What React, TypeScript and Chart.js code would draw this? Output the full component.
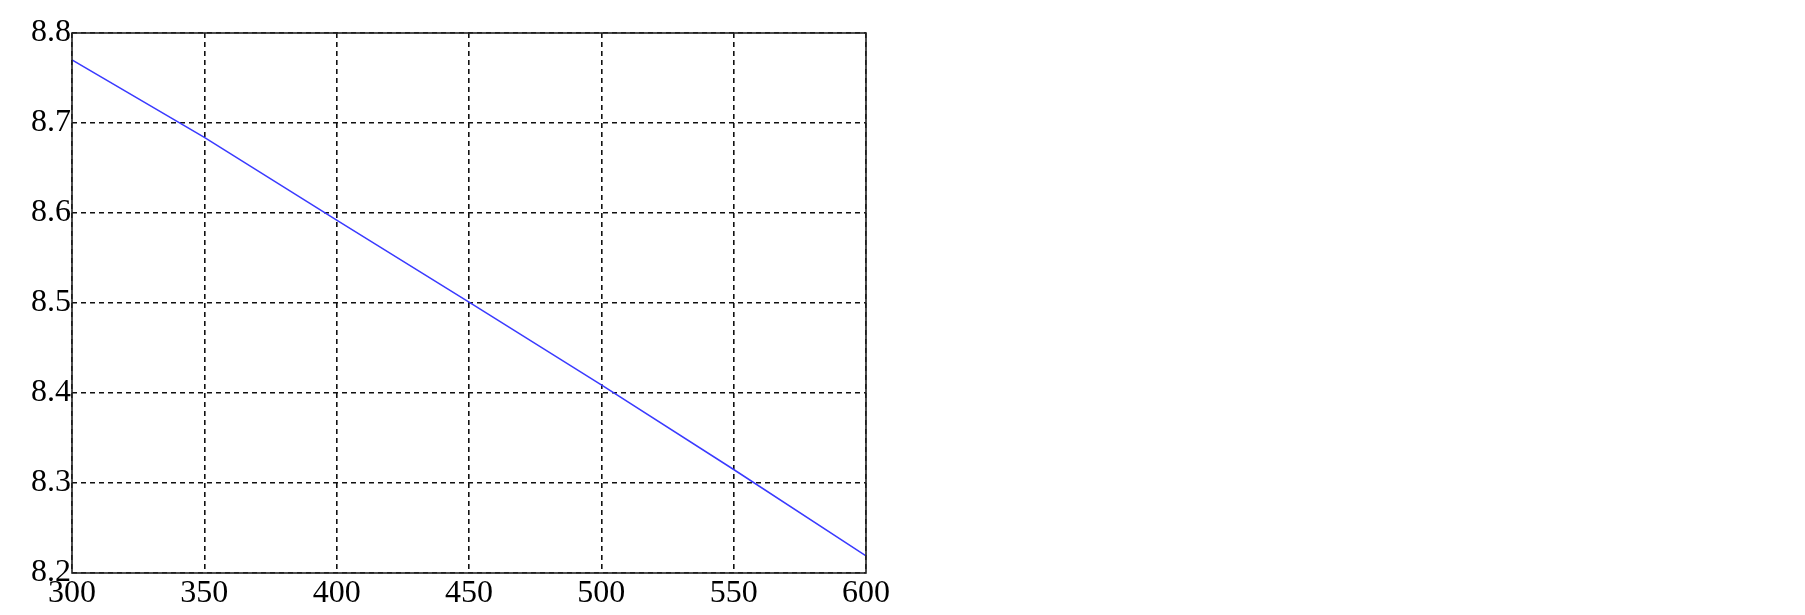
import React, { useEffect, useRef } from "react";
import { Chart, registerables } from "chart.js";

Chart.register(...registerables);

const xValues = [300, 350, 400, 450, 500, 550, 600];
const yValues = [8.77, 8.684, 8.592, 8.501, 8.409, 8.315, 8.219];
const xTickRange = { min: 300, max: 600, step: 50 };
const yTickRange = { min: 8.2, max: 8.8, step: 0.1 };

const framePlugin = {
  id: "frame",
  afterDraw(chart: any) {
    const { ctx, chartArea } = chart;
    ctx.save();
    ctx.strokeStyle = "#222";
    ctx.lineWidth = 1.6;
    ctx.setLineDash([]);
    ctx.strokeRect(chartArea.left, chartArea.top, chartArea.right - chartArea.left, chartArea.bottom - chartArea.top);
    ctx.restore();
  },
};

export default function App() {
  const ref = useRef<HTMLCanvasElement>(null);
  useEffect(() => {
    if (!ref.current) return;
    const font = { family: "'Liberation Serif', serif", size: 32 };
    const chart = new Chart(ref.current, {
      type: "line",
      data: {
        datasets: [
          {
            data: xValues.map((x, i) => ({ x, y: yValues[i] })),
            borderColor: "#3a3aff",
            borderWidth: 1.5,
            pointRadius: 0,
            tension: 0,
          },
        ],
      },
      options: {
        animation: false,
        responsive: false,
        layout: { padding: { top: 25, right: 931, left: 0, bottom: 0 } },
        plugins: { legend: { display: false }, tooltip: { enabled: false } },
        scales: {
          x: {
            type: "linear",
            min: xTickRange.min,
            max: xTickRange.max,
            afterFit: (s: any) => { s.height = 34; },
            border: { display: false, dash: [5, 4] },
            grid: { color: "#111", lineWidth: 1.6, drawTicks: false },
            ticks: {
              stepSize: xTickRange.step,
              color: "#000",
              padding: 1,
              font,
              callback: (v: any) => String(v),
            },
          },
          y: {
            type: "linear",
            min: yTickRange.min,
            max: yTickRange.max,
            afterFit: (s: any) => { s.width = 64; },
            border: { display: false, dash: [5, 4] },
            grid: { color: "#111", lineWidth: 1.6, drawTicks: false },
            ticks: {
              stepSize: yTickRange.step,
              color: "#000",
              padding: 1,
              font,
              callback: (v: any) => Number(v).toFixed(1),
            },
          },
        },
      } as any,
      plugins: [framePlugin],
    });
    return () => chart.destroy();
  }, []);
  return <canvas ref={ref} width={1789} height={599} style={{ display: "block" }} />;
}
